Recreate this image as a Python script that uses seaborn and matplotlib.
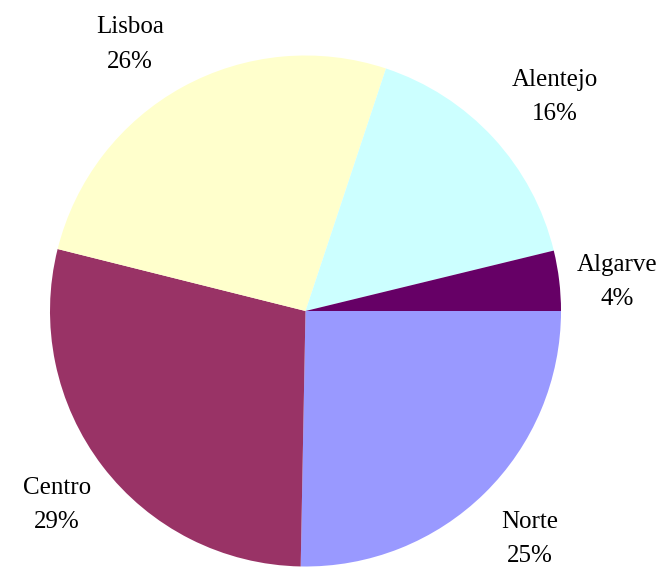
import numpy as np
import matplotlib
matplotlib.use("Agg")
import matplotlib.pyplot as plt
import seaborn as sns

regions = ["Norte", "Centro", "Lisboa", "Alentejo", "Algarve"]
shares = [25.3, 28.6, 26.2, 16.1, 3.8]
colors = ["#9999FF", "#993366", "#FFFFCC", "#CCFFFF", "#660066"]

sns.set_theme(style="white")
plt.rcParams['font.family'] = ['Liberation Serif', 'DejaVu Serif']

W, H = 670, 571
fig = plt.figure(figsize=(W / 100, H / 100), dpi=100)
cx, cy, R = 305.5, 311, 255.5
lim = 1.02
half = R * lim
ax = fig.add_axes([(cx - half) / W, (H - cy - half) / H, 2 * half / W, 2 * half / H])

wedges, _ = ax.pie(shares, colors=colors, startangle=0, counterclock=False,
                   radius=1.0, wedgeprops=dict(linewidth=0))
ax.set_xlim(-lim, lim)
ax.set_ylim(-lim, lim)
ax.set_aspect('equal')
ax.axis('off')

total = sum(shares)
label_dist = {"Norte": 1.252, "Centro": 1.234, "Lisboa": 1.249, "Alentejo": 1.287, "Algarve": 1.224}
label_rot = {"Norte": 0.1, "Centro": 0.6, "Lisboa": 4.6, "Alentejo": -2.0, "Algarve": -1.5}
for w, name, v in zip(wedges, regions, shares):
    mid = np.deg2rad((w.theta1 + w.theta2) / 2 + label_rot[name])
    d = label_dist[name]
    ax.text(d * np.cos(mid), d * np.sin(mid), f"{name}\n{round(100 * v / total)}%",
            ha='center', va='center', fontsize=18, linespacing=1.72,
            color='black', clip_on=False)

fig.savefig("out.png", dpi=100)
